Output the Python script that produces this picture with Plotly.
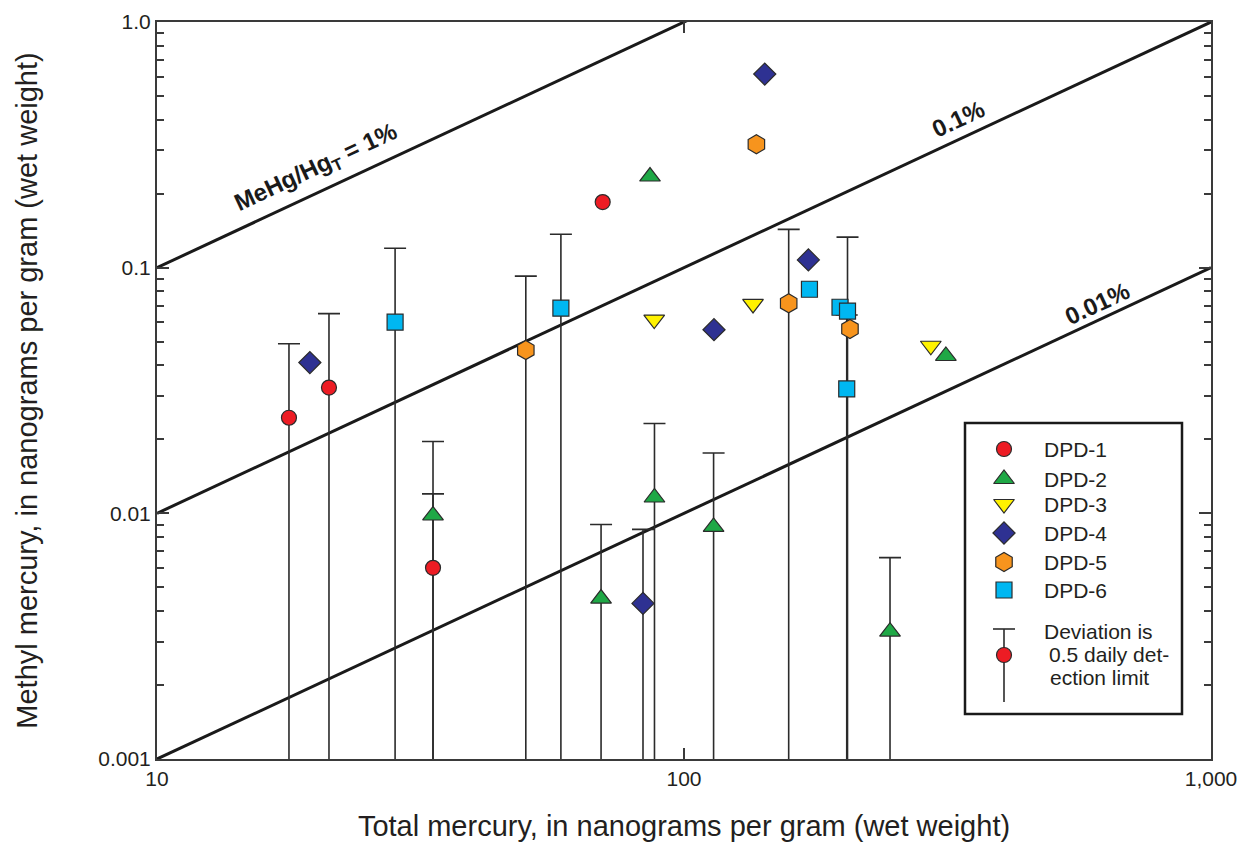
import math
import plotly.graph_objects as go

# ---- Data: total mercury (ng/g wet wt) vs methyl mercury (ng/g wet wt) ----
series_names = ["DPD-1", "DPD-2", "DPD-3", "DPD-4", "DPD-5", "DPD-6"]

dpd1_total = [17.8, 21.2, 33.4, 70.1]
dpd1_methyl = [0.0245, 0.0325, 0.0060, 0.185]
dpd1_below_dl = [True, True, True, False]

dpd2_total = [33.4, 86.2, 69.6, 87.9, 113.8, 246.0, 314.0]
dpd2_methyl = [0.0098, 0.235, 0.0045, 0.0116, 0.0088, 0.0033, 0.0437]
dpd2_below_dl = [True, False, True, True, True, True, False]

dpd3_total = [87.8, 135.2, 294.0]
dpd3_methyl = [0.0615, 0.0712, 0.0481]
dpd3_below_dl = [False, False, False]

dpd4_total = [19.5, 83.6, 114.0, 142.3, 172.2]
dpd4_methyl = [0.0411, 0.0043, 0.0559, 0.614, 0.1075]
dpd4_below_dl = [False, True, False, False, False]

dpd5_total = [50.1, 137.2, 158.0, 206.5]
dpd5_methyl = [0.0462, 0.318, 0.0716, 0.0563]
dpd5_below_dl = [True, False, True, False]

dpd6_total = [28.3, 58.4, 173.0, 197.7, 204.3, 203.6]
dpd6_methyl = [0.060, 0.0684, 0.0817, 0.069, 0.0666, 0.0321]
dpd6_below_dl = [True, True, False, False, True, True]

# MeHg / total Hg reference ratios (1 %, 0.1 %, 0.01 %)
ratio_values = [0.01, 0.001, 0.0001]
ratio_x = [10, 1000]
ratio_labels = ["<b>MeHg/Hg<sub>T</sub> = 1%</b>", "<b>0.1%</b>", "<b>0.01%</b>"]
ratio_label_at = [(20.0, 0.2545), (332.5, 0.403), (607.5, 0.0718)]

x_tickvals = [10, 100, 1000]
x_ticktext = ["10", "100", "1,000"]
y_tickvals = [0.001, 0.01, 0.1, 1.0]
y_ticktext = ["0.001", "0.01", "0.1", "1.0"]

# ---- Styling ----
FONT = "Liberation Sans, Arial, sans-serif"
TEXT = "#231f20"
EDGE = "#2b2b2b"
styles = {
    "DPD-1": dict(symbol="circle", color="#ed1c24", size=15),
    "DPD-2": dict(symbol="triangle-up", color="#1fa846", size=18),
    "DPD-3": dict(symbol="triangle-down", color="#fff200", size=18),
    "DPD-4": dict(symbol="diamond", color="#2e3192", size=17),
    "DPD-5": dict(symbol="hexagon", color="#f7941d", size=19),
    "DPD-6": dict(symbol="square", color="#00b7f1", size=16),
}

data = [
    (dpd1_total, dpd1_methyl, dpd1_below_dl),
    (dpd2_total, dpd2_methyl, dpd2_below_dl),
    (dpd3_total, dpd3_methyl, dpd3_below_dl),
    (dpd4_total, dpd4_methyl, dpd4_below_dl),
    (dpd5_total, dpd5_methyl, dpd5_below_dl),
    (dpd6_total, dpd6_methyl, dpd6_below_dl),
]

fig = go.Figure()

# Reference ratio lines
for r in ratio_values:
    fig.add_trace(go.Scatter(
        x=ratio_x, y=[r * v for v in ratio_x], mode="lines",
        line=dict(color="#1a1a1a", width=3), hoverinfo="skip", showlegend=False,
    ))

# Deviation bars for values set at half the detection limit:
# upper end at the detection limit, lower end running to zero.
for name, (xs, ys, flags) in zip(series_names, data):
    bx = [x for x, f in zip(xs, flags) if f]
    by = [y for y, f in zip(ys, flags) if f]
    if not bx:
        continue
    fig.add_trace(go.Scatter(
        x=bx, y=by, mode="markers", marker=dict(size=4, opacity=0),
        error_y=dict(type="data", symmetric=False, array=by, arrayminus=by,
                     color="#2b2b2b", thickness=1.6, width=11),
        hoverinfo="skip", showlegend=False,
    ))

# Sample markers
for name, (xs, ys, flags) in zip(series_names, data):
    st = styles[name]
    fig.add_trace(go.Scatter(
        x=xs, y=ys, mode="markers", name=name,
        marker=dict(symbol=st["symbol"], color=st["color"], size=st["size"],
                    opacity=1, line=dict(color=EDGE, width=1.2)),
        showlegend=False,
    ))

# ---- Key, drawn on an overlay pixel frame of the plotting area ----
PW, PH = 1054, 737
key_x0, key_x1, key_y0, key_y1 = 808, 1025, 401, 692
key_sym_x, key_txt_x = 847, 885
key_rows = [427, 457, 482, 511, 540, 568]

fig.add_trace(go.Scatter(
    x=[key_sym_x] * len(series_names), y=key_rows, mode="markers",
    marker=dict(symbol=[styles[n]["symbol"] for n in series_names],
                color=[styles[n]["color"] for n in series_names],
                size=[styles[n]["size"] for n in series_names],
                opacity=1, line=dict(color=EDGE, width=1.2)),
    xaxis="x2", yaxis="y2", hoverinfo="skip", showlegend=False,
))
fig.add_trace(go.Scatter(
    x=[key_sym_x], y=[633], mode="markers",
    marker=dict(symbol="circle", color=styles["DPD-1"]["color"], size=15,
                opacity=1, line=dict(color=EDGE, width=1.2)),
    xaxis="x2", yaxis="y2", hoverinfo="skip", showlegend=False,
))

shapes = [
    dict(type="rect", xref="x2", yref="y2", x0=key_x0, x1=key_x1, y0=key_y0, y1=key_y1,
         line=dict(color="#1a1a1a", width=2.5), fillcolor="white", layer="below"),
    dict(type="line", xref="x2", yref="y2", x0=key_sym_x, x1=key_sym_x, y0=607, y1=680,
         line=dict(color="#2b2b2b", width=1.6), layer="below"),
    dict(type="line", xref="x2", yref="y2", x0=key_sym_x - 11, x1=key_sym_x + 11, y0=607, y1=607,
         line=dict(color="#2b2b2b", width=1.6), layer="below"),
]

annotations = []
for name, yy in zip(series_names, key_rows):
    annotations.append(dict(x=key_txt_x, y=yy, xref="x2", yref="y2", text=name,
                            showarrow=False, xanchor="left", yanchor="middle",
                            font=dict(family=FONT, size=21, color=TEXT)))
for txt, xx, yy in [("Deviation is", key_txt_x, 609),
                    ("0.5 daily det-", key_txt_x + 5, 632),
                    ("ection limit", key_txt_x + 6, 655)]:
    annotations.append(dict(x=xx, y=yy, xref="x2", yref="y2", text=txt,
                            showarrow=False, xanchor="left", yanchor="middle",
                            font=dict(family=FONT, size=21, color=TEXT)))

# Ratio-line labels (log axes take exponents for annotation positions)
for txt, (xx, yy) in zip(ratio_labels, ratio_label_at):
    annotations.append(dict(x=math.log10(xx), y=math.log10(yy), xref="x", yref="y",
                            text=txt, showarrow=False, textangle=-25,
                            xanchor="center", yanchor="middle",
                            font=dict(family=FONT, size=24, color="#1a1a1a")))

axis_common = dict(
    type="log", showgrid=False, zeroline=False, showline=True, automargin=False,
    linecolor="#3a3a3a", linewidth=2, mirror="ticks",
    ticks="inside", tickcolor="#3a3a3a", tickwidth=1.5,
    tickfont=dict(family=FONT, size=21, color=TEXT),
)

fig.update_layout(
    width=1238, height=842,
    margin=dict(l=157, r=27, t=22, b=83),
    paper_bgcolor="white", plot_bgcolor="white",
    showlegend=False,
    xaxis=dict(axis_common, range=[1, 3], tickmode="array",
               tickvals=x_tickvals, ticktext=x_ticktext, ticklen=11,
               title=dict(text="Total mercury, in nanograms per gram (wet weight)",
                          font=dict(family=FONT, size=29, color=TEXT), standoff=28)),
    yaxis=dict(axis_common, range=[-3, 0], tickmode="array",
               tickvals=y_tickvals, ticktext=y_ticktext, ticklen=12,
               minor=dict(ticks="inside", ticklen=7, tickwidth=1.5, tickcolor="#3a3a3a",
                          dtick="D1", showgrid=False),
               title=dict(text="Methyl mercury, in nanograms per gram (wet weight)",
                          font=dict(family=FONT, size=29, color=TEXT), standoff=52)),
    xaxis2=dict(overlaying="x", anchor="y2", range=[0, PW], visible=False, fixedrange=True),
    yaxis2=dict(overlaying="y", anchor="x2", range=[PH, 0], visible=False, fixedrange=True),
    shapes=shapes,
    annotations=annotations,
)

fig.write_html("out.html")
